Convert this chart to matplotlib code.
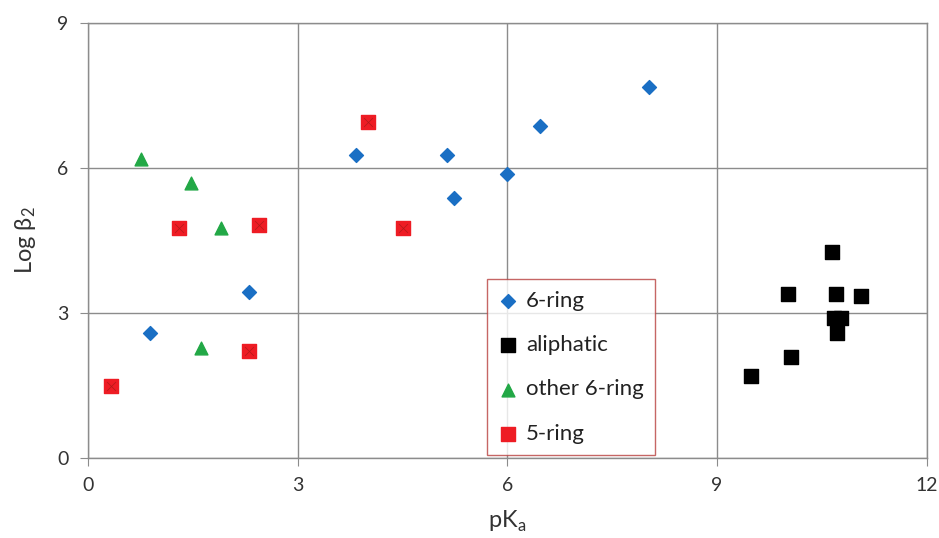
import matplotlib.pyplot as plt

# 6-ring
ring6_x = [0.89, 2.31, 3.83, 5.14, 5.23, 5.99, 6.46, 8.03]
ring6_y = [2.59, 3.44, 6.27, 6.27, 5.38, 5.88, 6.87, 7.68]
# aliphatic
aliph_x = [9.49, 10.06, 10.01, 10.64, 10.70, 11.06, 10.67, 10.77, 10.71]
aliph_y = [1.70, 2.09, 3.39, 4.26, 3.39, 3.35, 2.90, 2.90, 2.59]
# other 6-ring
other_x = [0.76, 1.47, 1.91, 1.61]
other_y = [6.18, 5.69, 4.76, 2.28]
# 5-ring
ring5_x = [0.33, 1.30, 2.44, 2.30, 4.00, 4.50]
ring5_y = [1.50, 4.76, 4.82, 2.21, 6.96, 4.76]

xticks = [0, 3, 6, 9, 12]
yticks = [0, 3, 6, 9]


def main():
    plt.rcParams['font.family'] = ['Lato', 'DejaVu Sans']
    fig = plt.figure(figsize=(9.39, 5.38), dpi=100)
    ax = fig.add_axes([0.0937, 0.1487, 0.8933, 0.8083])

    ax.scatter(ring6_x, ring6_y, marker='D', s=50, color='#1a6fc4', label='6-ring', zorder=3)
    ax.scatter(aliph_x, aliph_y, marker='s', s=110, color='black', label='aliphatic', zorder=3)
    ax.scatter(other_x, other_y, marker='^', s=85, color='#22a846', label='other 6-ring', zorder=3)
    ax.scatter(ring5_x, ring5_y, marker='s', s=110, color='#ee1c24', label='5-ring', zorder=3)
    ax.scatter(ring5_x, ring5_y, marker='x', s=40, color='#b01a1a', linewidths=0.5, zorder=4)

    ax.set_xlim(0, 12)
    ax.set_ylim(0, 9)
    ax.set_xticks(xticks)
    ax.set_yticks(yticks)
    ax.grid(True, color='#8c8c8c', linewidth=1.0)
    ax.set_axisbelow(True)
    for s in ax.spines.values():
        s.set_color('#8c8c8c')
        s.set_linewidth(1.0)
    ax.tick_params(direction='out', length=6, color='#8c8c8c', labelsize=14,
                   labelcolor='#333333', pad=8)

    ax.set_xlabel(r'pK$_\mathregular{a}$', fontsize=17, color='#333333', labelpad=10)
    ax.set_ylabel(r'Log $\mathregular{\beta_2}$', fontsize=17, color='#333333', labelpad=14)

    leg = ax.legend(loc='lower left', bbox_to_anchor=(0.4756, 0.007), fontsize=16,
                    frameon=True, fancybox=False, handletextpad=0.35, labelspacing=1.1,
                    borderpad=0.5, handlelength=0.9, scatterpoints=1, borderaxespad=0)
    leg.get_frame().set_edgecolor('#b8403e')
    leg.get_frame().set_linewidth(1.0)
    for t in leg.get_texts():
        t.set_color('#222222')

    plt.savefig('out.png', dpi=100)


if __name__ == '__main__':
    main()
